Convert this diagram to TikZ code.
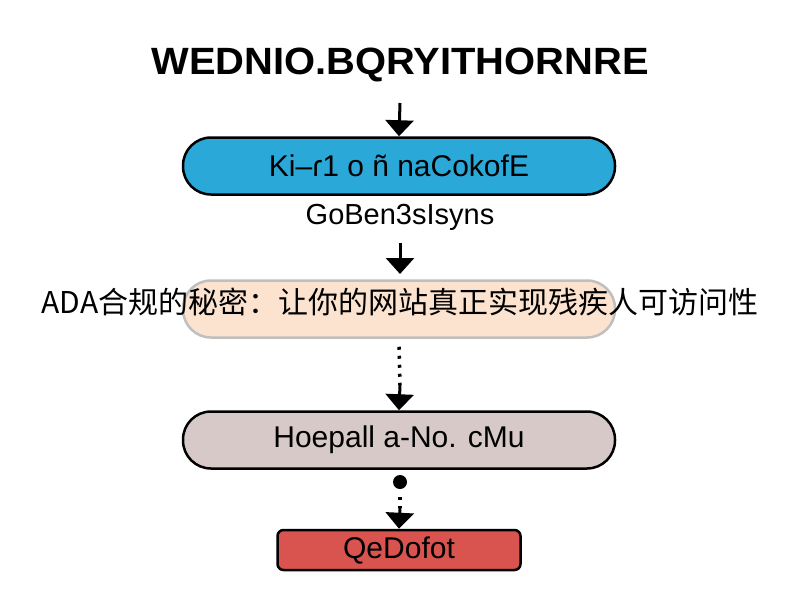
\documentclass[tikz,border=0pt]{standalone}
\usepackage{fontspec}
\setmainfont{Liberation Sans}
\newfontfamily\cjk{Noto Sans CJK SC}
\usetikzlibrary{arrows.meta}
\definecolor{cblue}{HTML}{2AA8D8}
\definecolor{cpeach}{HTML}{FBE3CF}
\definecolor{cgray}{HTML}{D8C9C9}
\definecolor{cred}{HTML}{D9534F}
\begin{document}
\begin{tikzpicture}[x=1pt,y=-1pt,
  pill/.style={draw=black,line width=2.5pt,rounded corners=28pt,minimum width=432pt,minimum height=57pt,font=\fontsize{30}{34}\selectfont},
  arr/.style={line width=3pt,-{Triangle[length=16pt,width=28pt]}},
  dotl/.style={line width=3.5pt,dash pattern=on 3pt off 6pt}]
\useasboundingbox (0,0) rectangle (800,600);
\fill[white] (0,0) rectangle (800,600);
\node[font=\bfseries\fontsize{38}{42}\selectfont,xscale=1.05] (title) at (400,65) {WEDNIO.BQRYITHORNRE};
\node[pill,fill=cblue] (blue) at (399,166) {Ki–ɾ1 o ñ naCokofE};
\node[font=\fontsize{29}{32}\selectfont] (sub) at (400,217) {GoBen3sIsyns};
\node[pill,fill=cpeach,draw=black!25] (peach) at (399,309) {};
\node[pill,fill=cgray] (gray) at (399,440) {Hoepall a-No. cMu};
\node[draw=black,line width=2.5pt,fill=cred,rounded corners=6pt,minimum width=243pt,minimum height=40pt,font=\fontsize{30}{34}\selectfont] (red) at (399,550) {QeDofot};
\node[font=\cjk\fontsize{30}{34}\selectfont] (cap) at (400,302) {ADA合规的秘密：让你的网站真正实现残疾人可访问性};
\coordinate (a1) at (400,103);
\draw[arr] (a1) -- (blue.north);
\coordinate (a2) at (400,243);
\draw[arr] (a2) -- (400,274);
\coordinate (d1) at (400,385);
\draw[dotl] (peach.south) ++(0,8) -- (d1);
\draw[arr] (d1) -- (gray.north);
\fill (400,482) circle (7pt) coordinate (dot);
\coordinate (d2) at (400,508);
\draw[dotl] (400,497) -- (d2);
\draw[arr] (d2) -- (red.north);
\end{tikzpicture}
\end{document}
